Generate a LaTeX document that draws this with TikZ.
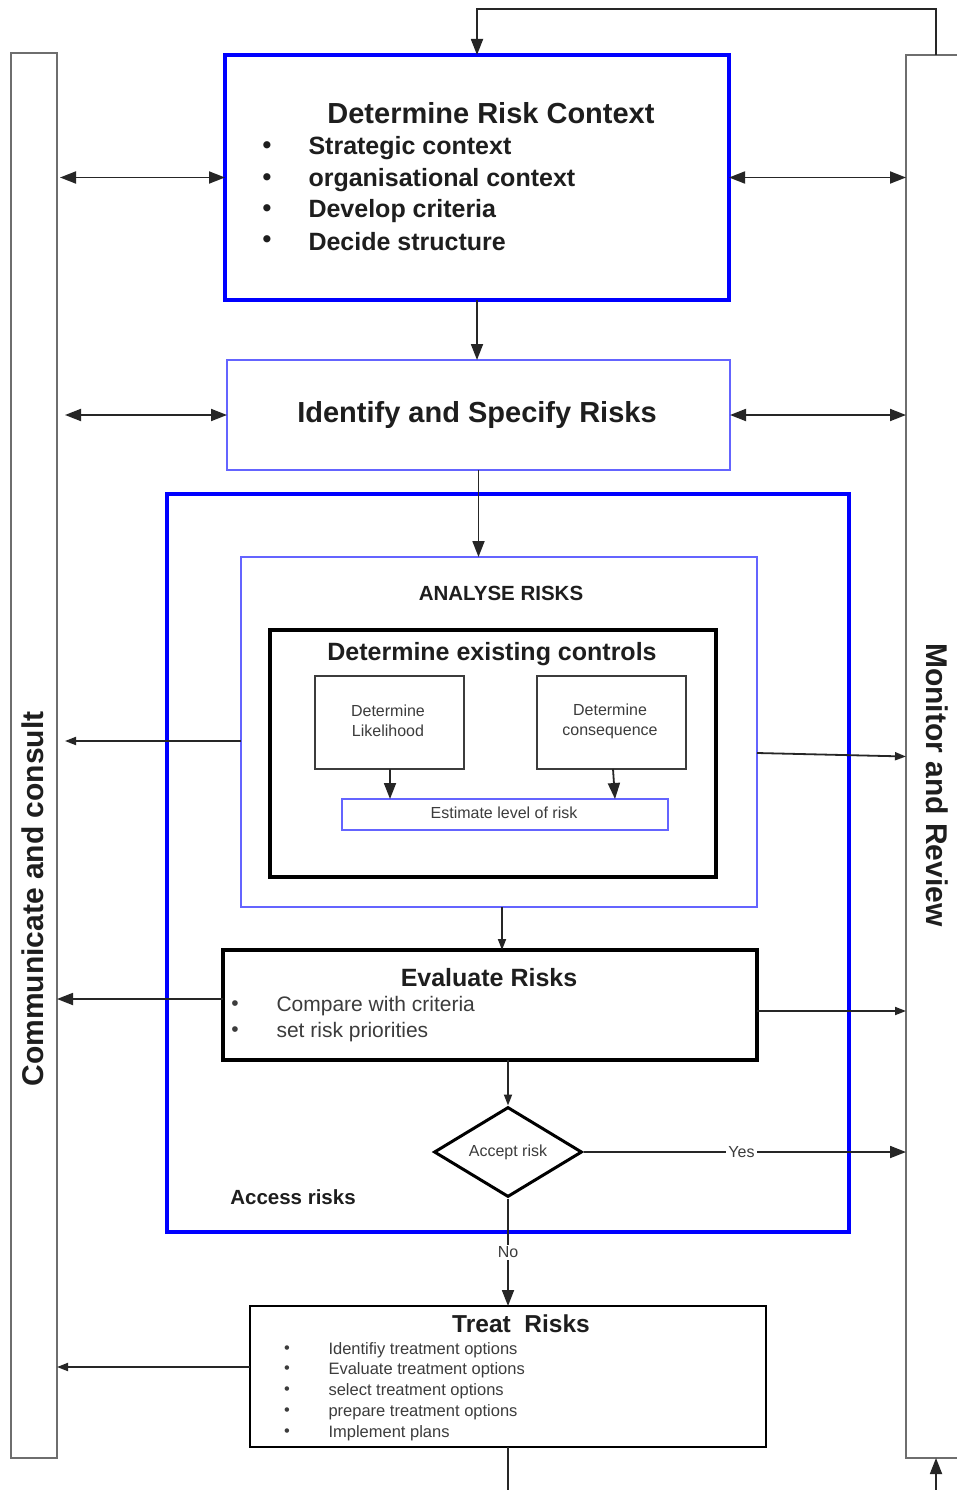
\documentclass[tikz,border=0pt]{standalone}
\usepackage{fontspec}
\setmainfont{Liberation Sans}
\usetikzlibrary{arrows.meta,fit,shapes.geometric}
\newcommand\fsz[1]{\fontsize{#1}{#1}\selectfont}
\definecolor{lblue}{RGB}{100,100,255}
\definecolor{ink}{RGB}{30,30,30}
\definecolor{soft}{RGB}{60,60,60}
\definecolor{bargray}{RGB}{110,110,110}
\begin{document}
\begin{tikzpicture}[x=1pt,y=-1pt,
  bx/.style={inner sep=0pt,outer sep=0pt},
  thickblue/.style={bx,draw=blue,line width=3.2pt},
  thinblue/.style={bx,draw=lblue,line width=1.6pt},
  thickblack/.style={bx,draw=black,line width=3.2pt},
  graybox/.style={bx,draw=bargray,line width=2pt},
  smallbox/.style={bx,draw=soft,line width=1.8pt},
  head/.style={text=ink,font=\bfseries\fsz{#1}},
  body/.style={text=soft,font=\fsz{#1}},
  conn/.style={draw=black!85,line width=1.8pt},
  arr/.style={conn,-{Triangle[length=16pt,width=12pt]}},
  sarr/.style={conn,-{Triangle[length=11pt,width=8pt]}},
  darr/.style={conn,{Triangle[length=16pt,width=12pt]}-{Triangle[length=16pt,width=12pt]}}
]
\useasboundingbox (0,0) rectangle (956,1490);
\fill[white] (0,0) rectangle (956,1490);

% side bars
\node[graybox,fit={(11,53) (57,1458)}] (lbar) {};
\node[head=30,rotate=90] (lbartext) at (33,899) {Communicate and consult};
\node[graybox,fit={(906,55) (1000,1458)}] (rbar) {};
\node[head=30,rotate=-90] (rbartext) at (937,785) {Monitor and Review};

% context
\node[thickblue,fit={(225,55) (729,300)}] (ctx) {};
\node[head=29] (ctxtitle) at (491,113) {Determine Risk Context};
\foreach \y/\t [count=\i] in {147/Strategic context,179/organisational context,210/Develop criteria,241/Decide structure}{
  \node[head=25] (cb\i) at (267,\y+1) {•};
  \node[head=25,anchor=west] (ct\i) at (305,\y+1) {\t};
}

% identify
\node[thinblue,fit={(227,360) (730,470)}] (ident) {};
\node[head=29] (identtext) at (477,415) {Identify and Specify Risks};

% assess
\node[thickblue,line width=3.5pt,fit={(167,494) (849,1232)}] (assess) {};
\node[head=20.5] (assesstext) at (293,1197) {Access risks};

% analyse
\node[thinblue,fit={(241,557) (757,907)}] (analyse) {};
\node[head=20.5] (analysetext) at (501,593) {ANALYSE RISKS};
\node[thickblack,fit={(270,630) (716,877)}] (ctrl) {};
\node[head=25] (ctrltext) at (492,654) {Determine existing controls};
\node[smallbox,fit={(315,676) (464,769)}] (lik) {};
\node[body=16,align=center] (liktext) at (388,721) {Determine\\[4pt]Likelihood};
\node[smallbox,fit={(537,676) (686,769)}] (cons) {};
\node[body=16,align=center] (constext) at (610,721) {Determine\\[4pt]consequence};
\node[thinblue,fit={(342,799) (668,830)}] (est) {};
\node[body=16] (esttext) at (504,813) {Estimate level of risk};

% evaluate
\node[thickblack,fit={(223,950) (757,1060)}] (eval) {};
\node[head=25] (evaltitle) at (489,978) {Evaluate Risks};
\node[body=21] (eb1) at (235,1006) {•};
\node[body=21,anchor=west] (et1) at (273,1006) {Compare with criteria};
\node[body=21] (eb2) at (235,1032) {•};
\node[body=21,anchor=west] (et2) at (273,1032) {set risk priorities};

% decision
\node[draw=black,line width=3pt,diamond,aspect=1.64,inner sep=0pt,
      minimum width=148pt,minimum height=90pt,body=16] (acc) at (508,1152) {Accept risk};

% treat
\node[bx,draw=black,line width=1.6pt,fit={(250,1306) (766,1447)}] (treat) {};
\node[head=24.5] (treattitle) at (521,1324) {Treat\ \ Risks};
\foreach \y/\t [count=\i] in {1349/Identifiy treatment options,1369/Evaluate treatment options,1390/select treatment options,1411/prepare treatment options,1432/Implement plans}{
  \node[body=16.5] (tb\i) at (287,\y+1) {•};
  \node[body=16.5,anchor=west] (tt\i) at (325,\y+1) {\t};
}

% feedback loop
\coordinate (looptop) at (936,55);
\coordinate (loopbotL) at (508,1500);
\coordinate (loopbotR) at (936,1500);
\draw[arr] (looptop) -- (936,9) -- (477,9) -- (ctx.north);
\draw[conn] (treat.south) -- (loopbotL);
\draw[arr] (loopbotR) -- (loopbotR |- rbar.south);

% main flow
\draw[arr] (ctx.south) -- (ident.north -| ctx.south);
\draw[arr] (ident.south) -- (ident.south |- analyse.north);
\draw[sarr] (analyse.south -| 502,0) -- (eval.north -| 502,0);
\draw[sarr] (acc.north |- eval.south) -- (acc.north);
\draw[arr] (acc.south) -- node[fill=white,body=16,inner sep=2pt] (nolabel) {No} (acc.south |- treat.north);
\draw[arr] (acc.east) -- node[pos=0.49,fill=white,body=16,inner sep=2pt] (yeslabel) {Yes} (acc.east -| rbar.west);
\draw[arr] (lik.south -| 390,0) -- (est.north -| 390,0);
\draw[arr] (cons.south -| 613,0) -- (est.north -| 615,0);

% links to side bars
\draw[darr,shorten <=3pt] (ctx.west -| lbar.east) -- (ctx.west);
\draw[darr] (ctx.east) -- (ctx.east -| rbar.west);
\draw[darr,shorten <=8pt] (ident.west -| lbar.east) -- (ident.west);
\draw[darr] (ident.east) -- (ident.east -| rbar.west);
\draw[sarr,shorten >=8pt] ([yshift=-9pt]analyse.west) -- ([yshift=-9pt]analyse.west -| lbar.east);
\draw[sarr] ([yshift=-21pt]analyse.east) -- (rbar.west);
\draw[arr] ([yshift=6pt]eval.west) -- ([yshift=6pt]eval.west -| lbar.east);
\draw[sarr] ([yshift=-6pt]eval.east) -- ([yshift=-6pt]eval.east -| rbar.west);
\draw[sarr] ([yshift=9.5pt]treat.west) -- ([yshift=9.5pt]treat.west -| lbar.east);
\end{tikzpicture}
\end{document}
